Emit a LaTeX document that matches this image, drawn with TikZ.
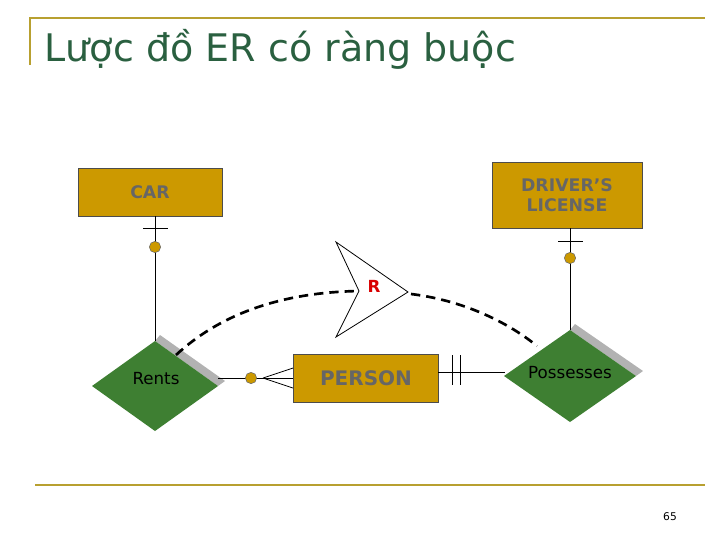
\documentclass[tikz,border=0pt]{standalone}
\usepackage{fontspec}
\setmainfont{DejaVu Sans}
\begin{document}
\begin{tikzpicture}[x=0.75pt,y=-0.75pt,
  ent/.style={draw=black!70,fill=gold,line width=0.6pt},
  lbl/.style={text=black!60,font=\bfseries\fontsize{13}{15}\selectfont,align=center},
  ln/.style={line width=0.6pt},
  dot/.style={circle,fill=gold,draw=black!60,inner sep=0pt,minimum size=8.5pt},
  dsh/.style={line width=2pt,dash pattern=on 7pt off 4.5pt}]
\definecolor{gold}{HTML}{CC9900}
\definecolor{relg}{HTML}{3E7F32}
\definecolor{ttl}{HTML}{2A6040}
\definecolor{rule}{HTML}{B8A030}
\useasboundingbox (0,0) rectangle (720,540);
\draw[rule,line width=1.2pt] (30,65) -- (30,18) -- (705,18);
\draw[rule,line width=1.2pt] (35,485) -- (705,485);
\node[anchor=west,text=ttl,font=\fontsize{28.5}{32}\selectfont] (title) at (40,49) {Lược đồ ER có ràng buộc};
\node[font=\fontsize{8}{9}\selectfont] (pg) at (670,517) {65};
\draw[ent] (78,168) rectangle (222,216);
\node[lbl] (car) at (150,192) {CAR};
\draw[ent] (492,162) rectangle (642,228);
\node[lbl] (lic) at (567,195) {DRIVER’S\\LICENSE};
\draw[ent] (293,354) rectangle (438,402);
\node[lbl,font=\bfseries\fontsize{15}{17}\selectfont] (per) at (366,378) {PERSON};
\fill[black!30] (160,335) -- (225,381) -- (218,386) -- (155,341) -- cycle;
\fill[relg] (155,341) -- (218,386) -- (155,431) -- (92,386) -- cycle;
\node[font=\fontsize{12.5}{14}\selectfont] (rents) at (156,379) {Rents};
\fill[black!30] (575,324) -- (643,371) -- (636,376) -- (570,330) -- cycle;
\fill[relg] (570,330) -- (636,376) -- (570,422) -- (504,376) -- cycle;
\node[font=\fontsize{12.5}{14}\selectfont] (pos) at (570,373) {Possesses};
\coordinate (crt) at (155,341);
\coordinate (cpt) at (570,330);
\draw[ln] (155,216) -- (crt);
\draw[ln] (143,228) -- (168,228);
\node[dot] (d1) at (155,247) {};
\draw[ln] (570,228) -- (cpt);
\draw[ln] (558,241) -- (583,241);
\node[dot] (d2) at (570,258) {};
\coordinate (rr) at (218,378);
\coordinate (pl) at (293,378);
\draw[ln] (rr) -- (pl);
\draw[ln] (263,378) -- (293,368) (263,378) -- (293,388);
\node[dot] (d3) at (251,378) {};
\coordinate (pr) at (438,372);
\coordinate (pol) at (505,372);
\draw[ln] (pr) -- (pol);
\draw[ln] (452,355) -- (452,385) (460,355) -- (460,385);
\draw[ln,fill=white] (336,242) -- (408,292) -- (336,337) -- (359,291) -- cycle;
\node[text=red!85!black,font=\bfseries\fontsize{12.5}{14}\selectfont] (R) at (374,286) {R};
\coordinate (ra) at (359,291);
\coordinate (rb) at (411,294);
\coordinate (e1) at (176,355);
\coordinate (e2) at (537,346);
\draw[dsh] (e1) .. controls (230,305) and (300,292) .. (ra);
\draw[dsh] (rb) .. controls (460,300) and (505,320) .. (e2);
\end{tikzpicture}
\end{document}
